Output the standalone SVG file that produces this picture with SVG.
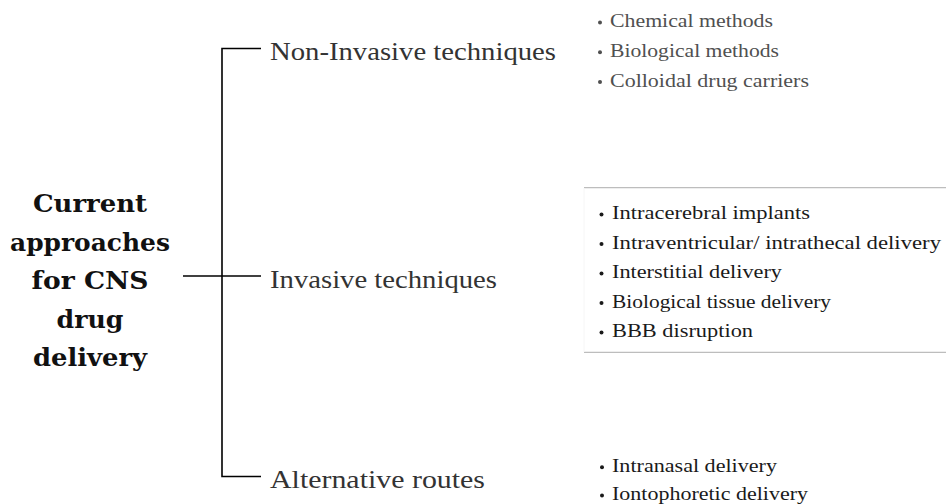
<svg xmlns="http://www.w3.org/2000/svg" width="946" height="504" viewBox="0 0 946 504">
<style>
.cns-root{font-family:"DejaVu Serif","Liberation Serif",serif;font-weight:bold;font-size:23.5px;fill:#111;text-anchor:middle}
.cns-branch{font-family:"Liberation Serif","Times New Roman",serif;font-size:26px;fill:#333}
.cns-leaf{font-family:"Liberation Serif","Times New Roman",serif;font-size:19.5px}
.cns-gray{fill:#505050}
.cns-dark{fill:#1a1a1a}
.cns-conn{stroke:#000;stroke-width:1.6;fill:none}
.cns-sep{stroke:#bdbdbd;stroke-width:1.2}
</style>
<rect width="946" height="504" fill="#fff"/>
<g id="connectors">
<path class="cns-conn" d="M261,48.5 H222 V476.5 H261"/>
<path class="cns-conn" d="M183,276 H261"/>
</g>
<g id="root">
<text class="cns-root" x="90" y="212" textLength="114" lengthAdjust="spacingAndGlyphs">Current</text>
<text class="cns-root" x="90" y="250.5" textLength="160" lengthAdjust="spacingAndGlyphs">approaches</text>
<text class="cns-root" x="90" y="289" textLength="117" lengthAdjust="spacingAndGlyphs">for CNS</text>
<text class="cns-root" x="90" y="327.5" textLength="67" lengthAdjust="spacingAndGlyphs">drug</text>
<text class="cns-root" x="90" y="366" textLength="114" lengthAdjust="spacingAndGlyphs">delivery</text>
</g>
<g id="noninvasive">
<text class="cns-branch" x="270" y="59.5" textLength="286" lengthAdjust="spacingAndGlyphs">Non-Invasive techniques</text>
</g>
<g id="invasive">
<text class="cns-branch" x="270" y="287.5" textLength="227" lengthAdjust="spacingAndGlyphs">Invasive techniques</text>
</g>
<g id="alternative">
<text class="cns-branch" x="270" y="488" textLength="215" lengthAdjust="spacingAndGlyphs">Alternative routes</text>
</g>
<g id="noninvasive-list" class="cns-gray">
<circle cx="600" cy="22.5" r="2"/>
<text class="cns-leaf cns-gray" x="610" y="27" textLength="163" lengthAdjust="spacingAndGlyphs">Chemical methods</text>
<circle cx="600" cy="52.3" r="2"/>
<text class="cns-leaf cns-gray" x="610" y="56.8" textLength="169" lengthAdjust="spacingAndGlyphs">Biological methods</text>
<circle cx="600" cy="82" r="2"/>
<text class="cns-leaf cns-gray" x="610" y="86.5" textLength="199" lengthAdjust="spacingAndGlyphs">Colloidal drug carriers</text>
</g>
<g id="invasive-list" class="cns-dark">
<line class="cns-sep" x1="584" y1="187.7" x2="946" y2="187.7"/>
<line class="cns-sep" x1="584" y1="352.3" x2="946" y2="352.3"/>
<line x1="584" y1="188" x2="584" y2="352" stroke="#f6f6f6" stroke-width="1"/>
<circle cx="601.5" cy="214.5" r="2"/>
<text class="cns-leaf cns-dark" x="612" y="219" textLength="198" lengthAdjust="spacingAndGlyphs">Intracerebral implants</text>
<circle cx="601.5" cy="244" r="2"/>
<text class="cns-leaf cns-dark" x="612" y="248.5" textLength="329" lengthAdjust="spacingAndGlyphs">Intraventricular/ intrathecal delivery</text>
<circle cx="601.5" cy="273.5" r="2"/>
<text class="cns-leaf cns-dark" x="612" y="278" textLength="170" lengthAdjust="spacingAndGlyphs">Interstitial delivery</text>
<circle cx="601.5" cy="303" r="2"/>
<text class="cns-leaf cns-dark" x="612" y="307.5" textLength="219" lengthAdjust="spacingAndGlyphs">Biological tissue delivery</text>
<circle cx="601.5" cy="332.5" r="2"/>
<text class="cns-leaf cns-dark" x="612" y="337" textLength="141" lengthAdjust="spacingAndGlyphs">BBB disruption</text>
</g>
<g id="alternative-list" class="cns-dark">
<circle cx="602" cy="467.3" r="2"/>
<text class="cns-leaf cns-dark" x="612" y="471.8" textLength="165" lengthAdjust="spacingAndGlyphs">Intranasal delivery</text>
<circle cx="602" cy="495.5" r="2"/>
<text class="cns-leaf cns-dark" x="612" y="500" textLength="196" lengthAdjust="spacingAndGlyphs">Iontophoretic delivery</text>
</g>
</svg>
